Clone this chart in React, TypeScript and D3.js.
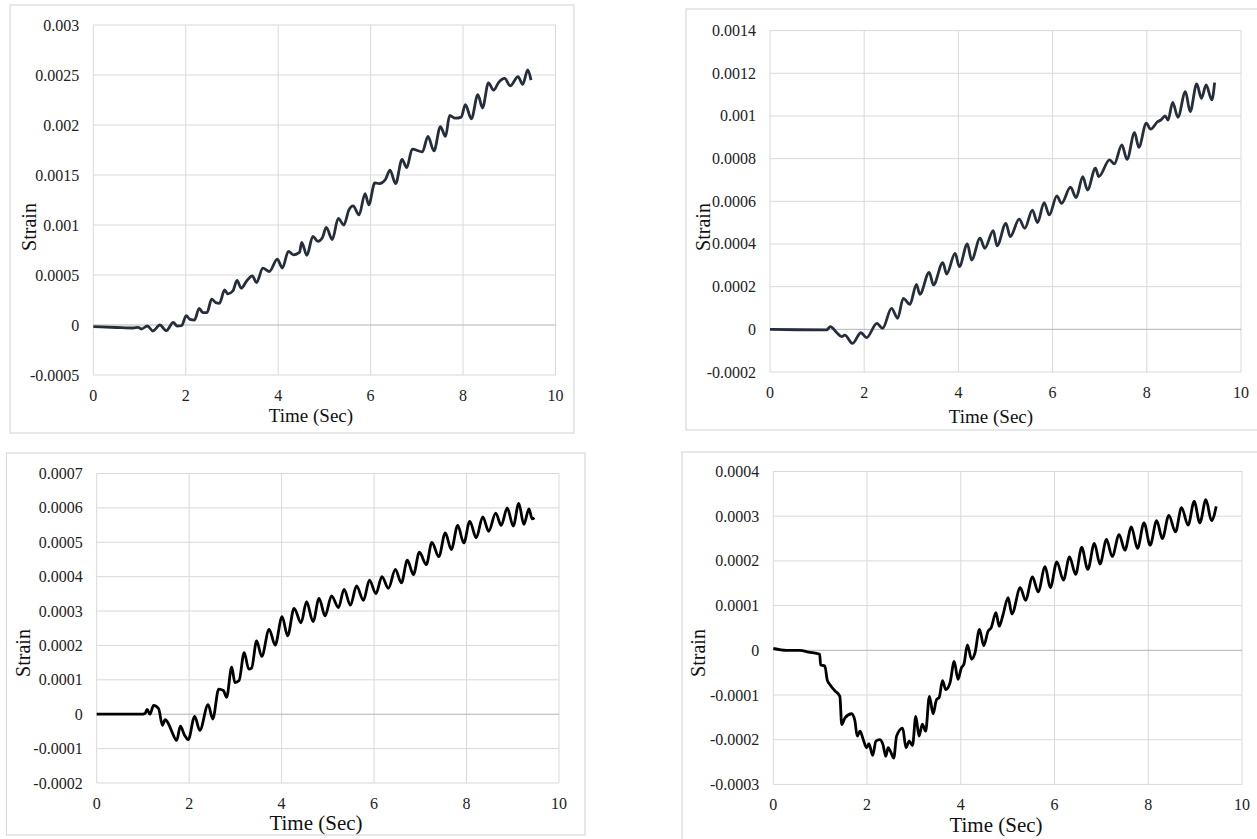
import React from "react";
import * as d3 from "d3";

// time (sec), strain
const strainA: [number, number][] = [
  [0, -0.000017], [0.5, -0.000025], [0.86, -0.00003], [0.97, -0.000023], [1.04, -0.00004], [1.17, -0.00001],
  [1.29, -0.00006], [1.44, 0], [1.58, -0.000057], [1.73, 0.000027], [1.81, -0.00001], [1.91, -0.000007],
  [2.01, 0.000094], [2.09, 0.000057], [2.19, 0.00005], [2.29, 0.000167], [2.37, 0.000124], [2.46, 0.000124],
  [2.56, 0.000258], [2.65, 0.000224], [2.73, 0.000217], [2.84, 0.000351], [2.91, 0.000311], [3.02, 0.000341],
  [3.11, 0.000445], [3.2, 0.000368], [3.31, 0.000435], [3.44, 0.000492], [3.53, 0.000425], [3.67, 0.000569],
  [3.81, 0.000535], [3.98, 0.000659], [4.09, 0.000569], [4.22, 0.000736], [4.33, 0.000702], [4.46, 0.000726],
  [4.51, 0.000826], [4.62, 0.000696], [4.75, 0.000886], [4.86, 0.000836], [4.96, 0.000876], [5.04, 0.000976],
  [5.17, 0.000855], [5.3, 0.001067], [5.42, 0.000999], [5.53, 0.001151], [5.62, 0.001192], [5.75, 0.001101],
  [5.88, 0.001313], [5.96, 0.001202], [6.09, 0.001421], [6.19, 0.001414], [6.32, 0.001455], [6.42, 0.001549],
  [6.54, 0.001414], [6.68, 0.001657], [6.78, 0.001573], [6.9, 0.001758], [7.12, 0.001731], [7.24, 0.001886],
  [7.37, 0.001741], [7.51, 0.001984], [7.62, 0.001886], [7.71, 0.002095], [7.83, 0.002068], [7.96, 0.002079],
  [8.05, 0.002203], [8.18, 0.002062], [8.32, 0.002304], [8.42, 0.00217], [8.55, 0.002422], [8.66, 0.002348],
  [8.77, 0.002426], [8.9, 0.002466], [9.02, 0.002392], [9.19, 0.002483], [9.29, 0.002406], [9.4, 0.002551],
  [9.47, 0.002449],
];

const strainB: [number, number][] = [
  [0, 0], [0.6, -0.000002], [1.2, -0.000003], [1.28, 0.0000125], [1.42, -0.000016], [1.52, -0.000034],
  [1.59, -0.000027], [1.75, -0.000066], [1.93, -0.000016], [2.05, -0.000039], [2.27, 0.000028], [2.39, 0.000005],
  [2.58, 0.000098], [2.71, 0.000052], [2.83, 0.000145], [2.97, 0.000117], [3.11, 0.000211], [3.18, 0.000164],
  [3.38, 0.000267], [3.47, 0.000208], [3.67, 0.000313], [3.75, 0.000259], [3.93, 0.000356], [4.02, 0.000294],
  [4.19, 0.0004], [4.28, 0.000325], [4.46, 0.000427], [4.56, 0.00038], [4.74, 0.000463], [4.82, 0.000391],
  [5.01, 0.000497], [5.1, 0.000434], [5.29, 0.000516], [5.41, 0.000473], [5.57, 0.000559], [5.68, 0.0005],
  [5.82, 0.000594], [5.93, 0.000536], [6.09, 0.000625], [6.19, 0.00059], [6.38, 0.000666], [6.5, 0.000617],
  [6.64, 0.000716], [6.74, 0.000653], [6.91, 0.000755], [6.98, 0.000716], [7.21, 0.000794], [7.31, 0.000775],
  [7.47, 0.000864], [7.58, 0.000797], [7.74, 0.000922], [7.83, 0.000853], [7.99, 0.000966], [8.08, 0.000938],
  [8.23, 0.000973], [8.3, 0.000981], [8.39, 0.001], [8.45, 0.000981], [8.55, 0.001064], [8.66, 0.000994],
  [8.82, 0.001114], [8.92, 0.00102], [9.06, 0.00115], [9.16, 0.001083], [9.26, 0.001145], [9.38, 0.001075],
  [9.44, 0.001156],
];

const strainC: [number, number][] = [
  [0, 0], [0.5, 0], [0.97, 0], [1.05, 0.000003], [1.09, 0.000014], [1.15, 0], [1.23, 0.000026], [1.34, 0.000016],
  [1.42, -0.000032], [1.48, -0.000016], [1.55, -0.000027], [1.63, -0.000052], [1.73, -0.000076], [1.81, -0.000035],
  [1.9, -0.000061], [1.98, -0.000074], [2.12, -0.000006], [2.23, -0.000047], [2.41, 0.000028], [2.51, -0.000014],
  [2.64, 0.000073], [2.74, 0.000069], [2.81, 0.000049], [2.92, 0.000137], [2.99, 0.000092], [3.08, 0.000098],
  [3.19, 0.000179], [3.29, 0.000131], [3.35, 0.000134], [3.46, 0.000213], [3.57, 0.000168], [3.73, 0.000247],
  [3.86, 0.000201], [4.01, 0.000284], [4.13, 0.000228], [4.27, 0.000308], [4.42, 0.000266], [4.54, 0.000327],
  [4.68, 0.000269], [4.81, 0.000337], [4.94, 0.000286], [5.08, 0.000344], [5.23, 0.00031], [5.35, 0.000363],
  [5.49, 0.000317], [5.62, 0.000373], [5.77, 0.000331], [5.9, 0.00039], [6.04, 0.000351], [6.17, 0.0004],
  [6.31, 0.000366], [6.46, 0.000421], [6.59, 0.000382], [6.72, 0.000448], [6.85, 0.000406], [6.98, 0.000471],
  [7.13, 0.000435], [7.25, 0.0005], [7.4, 0.000458], [7.54, 0.000527], [7.67, 0.000479], [7.81, 0.000549],
  [7.94, 0.000498], [8.07, 0.000561], [8.21, 0.000513], [8.35, 0.000574], [8.48, 0.000532], [8.63, 0.000585],
  [8.75, 0.000549], [8.88, 0.0006], [9.01, 0.000547], [9.13, 0.000613], [9.24, 0.000552], [9.35, 0.000597],
  [9.42, 0.000568], [9.47, 0.000571],
];

const strainD: [number, number][] = [
  [0, 0.0000045], [0.28, 0], [0.57, 0], [0.75, -0.000004], [0.99, -0.000009], [1.01, -0.000033], [1.1, -0.000035],
  [1.15, -0.000066], [1.21, -0.000077], [1.31, -0.00009], [1.42, -0.000103], [1.46, -0.000166], [1.53, -0.000151],
  [1.67, -0.000142], [1.74, -0.000157], [1.79, -0.000192], [1.85, -0.000181], [1.92, -0.0002], [1.99, -0.000218],
  [2.04, -0.000209], [2.12, -0.000235], [2.19, -0.000203], [2.27, -0.0002], [2.34, -0.000211], [2.4, -0.000237],
  [2.45, -0.000218], [2.5, -0.000226], [2.57, -0.000241], [2.63, -0.000192], [2.76, -0.000174], [2.83, -0.000218],
  [2.9, -0.000203], [2.97, -0.000213], [3.04, -0.000148], [3.11, -0.000192], [3.18, -0.000165], [3.25, -0.000181],
  [3.33, -0.000103], [3.41, -0.000142], [3.48, -0.000111], [3.54, -0.000105], [3.61, -0.000068], [3.68, -0.000088],
  [3.77, -0.000073], [3.86, -0.000025], [3.94, -0.000065], [4.01, -0.00004], [4.07, -0.00003], [4.14, 0.000012],
  [4.23, -0.00002], [4.3, -0.000007], [4.4, 0.000047], [4.49, 0.00001], [4.58, 0.000042], [4.65, 0.000051],
  [4.75, 0.000084], [4.82, 0.000054], [4.9, 0.000079], [5.01, 0.000118], [5.09, 0.000081], [5.27, 0.00014],
  [5.38, 0.000112], [5.53, 0.000164], [5.65, 0.000131], [5.8, 0.000187], [5.91, 0.00014], [6.05, 0.000198],
  [6.19, 0.000157], [6.32, 0.000209], [6.45, 0.00017], [6.58, 0.00023], [6.71, 0.000181], [6.85, 0.000239],
  [6.97, 0.000193], [7.11, 0.000248], [7.23, 0.00021], [7.38, 0.000259], [7.5, 0.000224], [7.64, 0.000276],
  [7.77, 0.000228], [7.91, 0.000285], [8.04, 0.000235], [8.18, 0.00029], [8.3, 0.00025], [8.44, 0.000302],
  [8.58, 0.000265], [8.71, 0.000319], [8.85, 0.00028], [8.98, 0.000333], [9.1, 0.000285], [9.23, 0.000337],
  [9.35, 0.00029], [9.45, 0.000322],
];

const timeTicks = [0, 2, 4, 6, 8, 10];
const ticksA = [-0.0005, 0, 0.0005, 0.001, 0.0015, 0.002, 0.0025, 0.003];
const ticksB = [-0.0002, 0, 0.0002, 0.0004, 0.0006, 0.0008, 0.001, 0.0012, 0.0014];
const ticksC = [-0.0002, -0.0001, 0, 0.0001, 0.0002, 0.0003, 0.0004, 0.0005, 0.0006, 0.0007];
const ticksD = [-0.0003, -0.0002, -0.0001, 0, 0.0001, 0.0002, 0.0003, 0.0004];

const FONT = "Liberation Serif";

type PanelProps = {
  data: [number, number][];
  yTicks: number[];
  color: string;
  frame: { x: number; y: number; w: number; h: number };
  plot: { left: number; right: number; top: number; bottom: number };
  strainPos: [number, number];
  timePos: [number, number];
  timeSize: number;
};

function Panel(props: PanelProps) {
  const { data, yTicks, color, frame, plot, strainPos, timePos, timeSize } = props;

  const x = d3.scaleLinear().domain([0, 10]).range([plot.left, plot.right]);
  const y = d3
    .scaleLinear()
    .domain([yTicks[0], yTicks[yTicks.length - 1]])
    .range([plot.bottom, plot.top]);

  const line = d3
    .line<[number, number]>()
    .x(d => x(d[0]))
    .y(d => y(d[1]))
    .curve(d3.curveMonotoneX);

  return (
    <g>
      <rect x={frame.x} y={frame.y} width={frame.w} height={frame.h} fill="#fff" stroke="#d9d9d9" strokeWidth={1.2} />

      {/* grid */}
      {timeTicks.map(t => (
        <line key={"v" + t} x1={x(t)} x2={x(t)} y1={plot.top} y2={plot.bottom} stroke="#d9d9d9" strokeWidth={1} />
      ))}
      {yTicks.map(v => (
        <line
          key={"h" + v}
          x1={plot.left}
          x2={plot.right}
          y1={y(v)}
          y2={y(v)}
          stroke={v === 0 ? "#b3b3b3" : "#d9d9d9"}
          strokeWidth={1}
        />
      ))}

      {/* tick labels */}
      {yTicks.map(v => (
        <text key={"yl" + v} x={plot.left - 14} y={y(v)} textAnchor="end" dominantBaseline="central"
          fontFamily={FONT} fontSize={16} fill="#222">
          {String(v)}
        </text>
      ))}
      {timeTicks.map(t => (
        <text key={"xl" + t} x={x(t)} y={plot.bottom + 20} textAnchor="middle" dominantBaseline="central"
          fontFamily={FONT} fontSize={16} fill="#222">
          {t}
        </text>
      ))}

      <path d={line(data) || ""} fill="none" stroke={color} strokeWidth={2.8} strokeLinejoin="round" />

      <text
        x={strainPos[0]}
        y={strainPos[1]}
        transform={`rotate(-90,${strainPos[0]},${strainPos[1]})`}
        textAnchor="middle"
        dominantBaseline="central"
        fontFamily={FONT}
        fontSize={20}
        fill="#111"
      >
        Strain
      </text>
      <text x={timePos[0]} y={timePos[1]} textAnchor="middle" dominantBaseline="central"
        fontFamily={FONT} fontSize={timeSize} fill="#111">
        Time (Sec)
      </text>
    </g>
  );
}

export default function App() {
  return (
    <div style={{ position: "absolute", left: 0, top: 0, width: 1257, height: 839, background: "#fff" }}>
      <svg width={1257} height={839} style={{ display: "block" }}>
        <rect width={1257} height={839} fill="#fff" />
        <Panel
          data={strainA}
          yTicks={ticksA}
          color="#262e3b"
          frame={{ x: 10, y: 5, w: 564, h: 428 }}
          plot={{ left: 93.3, right: 555.5, top: 25, bottom: 375 }}
          strainPos={[29, 227]}
          timePos={[311, 415]}
          timeSize={19}
        />
        <Panel
          data={strainB}
          yTicks={ticksB}
          color="#262e3b"
          frame={{ x: 686, y: 9, w: 580, h: 421 }}
          plot={{ left: 770, right: 1241, top: 30.6, bottom: 372 }}
          strainPos={[703, 227]}
          timePos={[991, 416]}
          timeSize={19}
        />
        <Panel
          data={strainC}
          yTicks={ticksC}
          color="#000"
          frame={{ x: 6.5, y: 453, w: 578.5, h: 382 }}
          plot={{ left: 96.7, right: 559, top: 473.5, bottom: 783 }}
          strainPos={[23.4, 653]}
          timePos={[316, 823]}
          timeSize={21}
        />
        <Panel
          data={strainD}
          yTicks={ticksD}
          color="#000"
          frame={{ x: 682, y: 452, w: 590, h: 390 }}
          plot={{ left: 773.3, right: 1242, top: 471.5, bottom: 784.4 }}
          strainPos={[698, 653]}
          timePos={[996, 825]}
          timeSize={21}
        />
      </svg>
    </div>
  );
}
